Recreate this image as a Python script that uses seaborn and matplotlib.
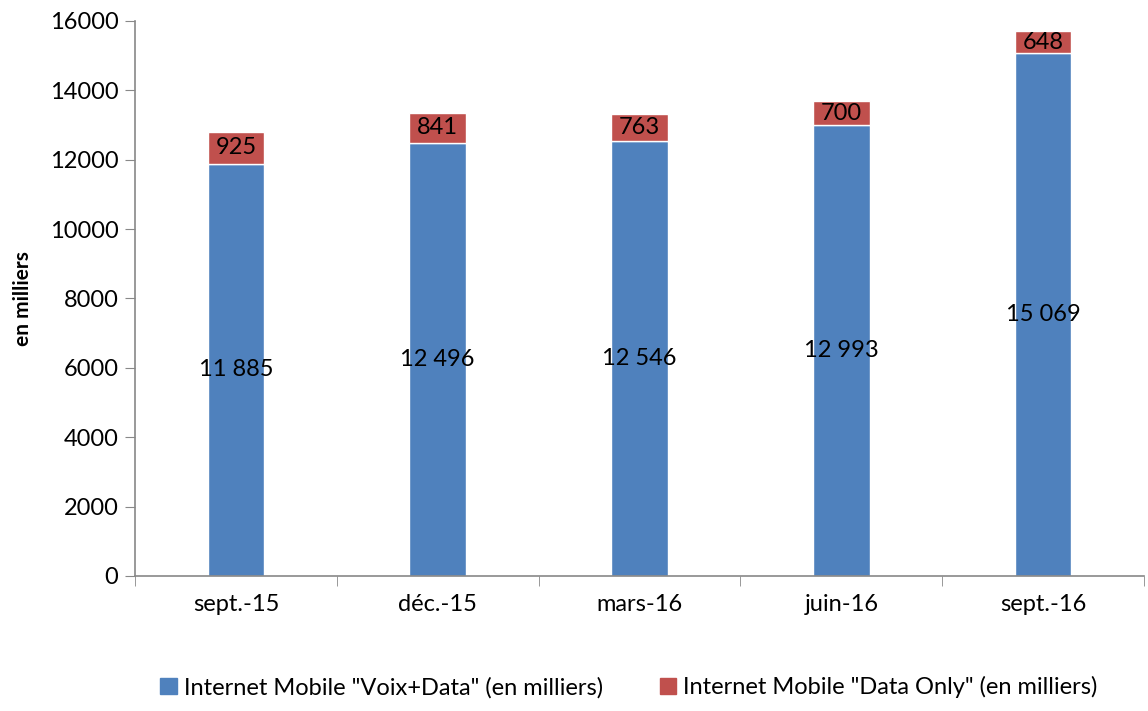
import pandas as pd
import matplotlib
matplotlib.use("Agg")
import matplotlib.pyplot as plt
import matplotlib.patches as mpatches
import seaborn as sns

periodes = ["sept.-15", "déc.-15", "mars-16", "juin-16", "sept.-16"]
voix_data = [11885, 12496, 12546, 12993, 15069]
data_only = [925, 841, 763, 700, 648]

df = pd.DataFrame({"periode": periodes, "voix_data": voix_data, "data_only": data_only})

sns.set_style("white")
plt.rcParams["font.family"] = ["Lato", "DejaVu Sans"]
plt.rcParams["text.color"] = "black"
plt.rcParams["xtick.color"] = "black"
plt.rcParams["ytick.color"] = "black"
plt.rcParams["axes.labelcolor"] = "black"

bleu = "#4F81BD"
rouge = "#C0504D"

fig = plt.figure(figsize=(11.48, 7.11), dpi=100)
ax = fig.add_axes([0.1176, 0.19, 0.879, 0.7805])

sns.barplot(data=df, x="periode", y="voix_data", color=bleu, width=0.28,
            saturation=1, ax=ax)
sns.barplot(data=df, x="periode", y="data_only", color=rouge, width=0.28,
            saturation=1, bottom=df["voix_data"], ax=ax)

fmt = lambda v: f"{v:,}".replace(",", " ")
ax.bar_label(ax.containers[0], labels=[fmt(v) for v in voix_data],
             label_type="center", fontsize=17, color="black")
ax.bar_label(ax.containers[1], labels=[fmt(v) for v in data_only],
             label_type="center", fontsize=17, color="black")

ax.set_ylim(0, 16000)
ax.set_xlim(-0.5, 4.5)
ax.set_yticks(range(0, 16001, 2000))
ax.set_xlabel("")
ax.set_ylabel("en milliers", fontsize=15, fontweight="bold", labelpad=12)

for s in ["top", "right"]:
    ax.spines[s].set_visible(False)
for s in ["left", "bottom"]:
    ax.spines[s].set_color("#888888")
    ax.spines[s].set_linewidth(1.2)

ax.tick_params(axis="y", which="major", left=True, length=7, color="#888888",
               labelsize=17, pad=5)
ax.tick_params(axis="x", which="major", length=0, labelsize=17, pad=13)
ax.set_xticks([i - 0.5 for i in range(6)], minor=True)
ax.tick_params(axis="x", which="minor", bottom=True, length=7, color="#888888")

handles = [mpatches.Patch(color=bleu, label='Internet Mobile "Voix+Data" (en milliers)'),
           mpatches.Patch(color=rouge, label='Internet Mobile "Data Only" (en milliers)')]
fig.legend(handles=handles, loc="lower center", bbox_to_anchor=(0.548, -0.012),
           ncol=2, frameon=False, fontsize=17, handlelength=0.7, handleheight=0.7,
           handletextpad=0.3, columnspacing=2.4)

fig.savefig("out.png", dpi=100)
